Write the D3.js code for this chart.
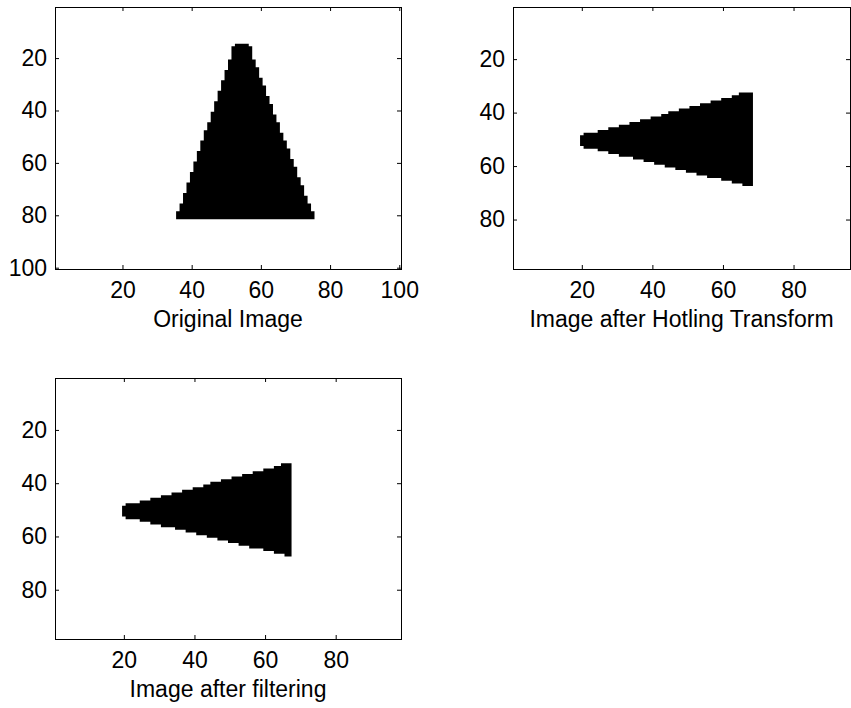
<!DOCTYPE html>
<html>
<head>
<meta charset="utf-8">
<script src="https://cdn.jsdelivr.net/npm/d3@7"></script>
<style>
  html, body { margin: 0; padding: 0; background: #fff; }
  svg { display: block; }
  text { font-family: "Liberation Sans", Arial, sans-serif; font-size: 23px; fill: #000; }
</style>
</head>
<body>
<svg width="851" height="708"></svg>
<script>
// original image: black pixels per row, first row then left / right column of each row
const origFirstRow = 15;
const origLeft = [
  53, 52, 52, 52, 52, 52, 51, 51, 51, 51,
  50, 50, 50, 50, 49, 49, 49, 49, 48, 48,
  48, 48, 47, 47, 47, 47, 46, 46, 46, 46,
  45, 45, 45, 44, 44, 44, 44, 43, 43, 43,
  43, 42, 42, 42, 42, 41, 41, 41, 41, 40,
  40, 40, 40, 39, 39, 39, 39, 38, 38, 38,
  38, 37, 37, 37, 36, 36, 36
];
const origRight = [
  56, 57, 57, 57, 57, 57, 58, 58, 58, 59,
  59, 59, 59, 60, 60, 60, 61, 61, 61, 61,
  62, 62, 62, 63, 63, 63, 63, 64, 64, 64,
  65, 65, 65, 65, 66, 66, 66, 67, 67, 67,
  68, 68, 68, 68, 69, 69, 69, 70, 70, 70,
  70, 71, 71, 71, 72, 72, 72, 72, 73, 73,
  73, 74, 74, 74, 75, 75, 75
];

// after Hotelling transform: black pixels per column, first column then top / bottom row
const rotFirstCol = 20;
const rotTop = [
  49, 48, 48, 48, 48, 47, 47, 47, 46, 46,
  46, 45, 45, 45, 44, 44, 44, 43, 43, 43,
  42, 42, 42, 41, 41, 40, 40, 40, 39, 39,
  39, 38, 38, 38, 37, 37, 37, 36, 36, 36,
  35, 35, 35, 34, 34, 33, 33, 33, 33
];
const rotBottom = [
  52, 53, 53, 53, 53, 54, 54, 54, 55, 55,
  55, 56, 56, 56, 56, 57, 57, 57, 58, 58,
  58, 59, 59, 59, 60, 60, 60, 61, 61, 61,
  62, 62, 62, 63, 63, 63, 64, 64, 64, 64,
  65, 65, 65, 66, 66, 66, 67, 67, 67
];

// after filtering
const filtFirstCol = 20;
const filtTop = [
  49, 48, 48, 48, 48, 47, 47, 47, 46, 46,
  46, 45, 45, 45, 44, 44, 44, 43, 43, 43,
  42, 42, 42, 41, 41, 40, 40, 40, 39, 39,
  39, 38, 38, 38, 37, 37, 37, 36, 36, 36,
  35, 35, 35, 34, 34, 33, 33, 33
];
const filtBottom = [
  52, 53, 53, 53, 53, 54, 54, 54, 55, 55,
  55, 56, 56, 56, 56, 57, 57, 57, 58, 58,
  58, 59, 59, 59, 60, 60, 60, 61, 61, 61,
  62, 62, 62, 63, 63, 63, 64, 64, 64, 64,
  65, 65, 65, 66, 66, 66, 67, 67
];

const ticksOrig = [20, 40, 60, 80, 100];
const ticksRot = [20, 40, 60, 80];
const titles = ['Original Image', 'Image after Hotling Transform', 'Image after filtering'];

const svg = d3.select('svg');

// cells as [x0, x1, y0, y1] in pixel-index units
const rowCells = (first, left, right) =>
  left.map((l, i) => [l - 0.5, right[i] + 0.5, first + i - 0.5, first + i + 0.5]);
const colCells = (first, top, bottom) =>
  top.map((t, i) => [first + i - 0.5, first + i + 0.5, t - 0.5, bottom[i] + 0.5]);

const panels = [
  { left: 55, top: 7, w: 346, h: 262, xmax: 100.5, ymax: 100.5, ticks: ticksOrig,
    cells: rowCells(origFirstRow, origLeft, origRight), title: titles[0] },
  { left: 513, top: 7, w: 337, h: 262, xmax: 96, ymax: 98.5, ticks: ticksRot,
    cells: colCells(rotFirstCol, rotTop, rotBottom), title: titles[1] },
  { left: 55, top: 378, w: 346, h: 261, xmax: 98.5, ymax: 98.5, ticks: ticksRot,
    cells: colCells(filtFirstCol, filtTop, filtBottom), title: titles[2] }
];

panels.forEach(p => {
  const g = svg.append('g').attr('transform', `translate(${p.left},${p.top})`);

  const x = d3.scaleLinear().domain([0.5, p.xmax]).range([0, p.w]);
  const y = d3.scaleLinear().domain([0.5, p.ymax]).range([0, p.h]);

  // image pixels, one path so neighbouring cells don't leave seams
  const path = d3.path();
  p.cells.forEach(([x0, x1, y0, y1]) => {
    path.rect(x(x0), y(y0), x(x1) - x(x0), y(y1) - y(y0));
  });
  g.append('path').attr('d', path.toString()).attr('fill', '#000');

  // ticks point inward on all four sides
  g.append('g').attr('transform', `translate(0,${p.h})`)
    .call(d3.axisBottom(x).tickValues(p.ticks).tickSizeInner(-4).tickSizeOuter(0).tickPadding(12.5));
  g.append('g')
    .call(d3.axisTop(x).tickValues(p.ticks).tickSizeInner(-4).tickSizeOuter(0).tickFormat(''));
  g.append('g')
    .call(d3.axisLeft(y).tickValues(p.ticks).tickSizeInner(-4).tickSizeOuter(0).tickPadding(8));
  g.append('g').attr('transform', `translate(${p.w},0)`)
    .call(d3.axisRight(y).tickValues(p.ticks).tickSizeInner(-4).tickSizeOuter(0).tickFormat(''));

  g.selectAll('.domain').remove();
  g.selectAll('.tick line').attr('stroke', '#000');
  g.selectAll('.tick text').attr('font-size', null).attr('font-family', null);

  g.append('rect')
    .attr('x', 0.5).attr('y', 0.5)
    .attr('width', p.w).attr('height', p.h)
    .attr('fill', 'none').attr('stroke', '#000');

  g.append('text')
    .attr('x', p.w / 2).attr('y', p.h + 58)
    .attr('text-anchor', 'middle')
    .text(p.title);
});
</script>
</body>
</html>
